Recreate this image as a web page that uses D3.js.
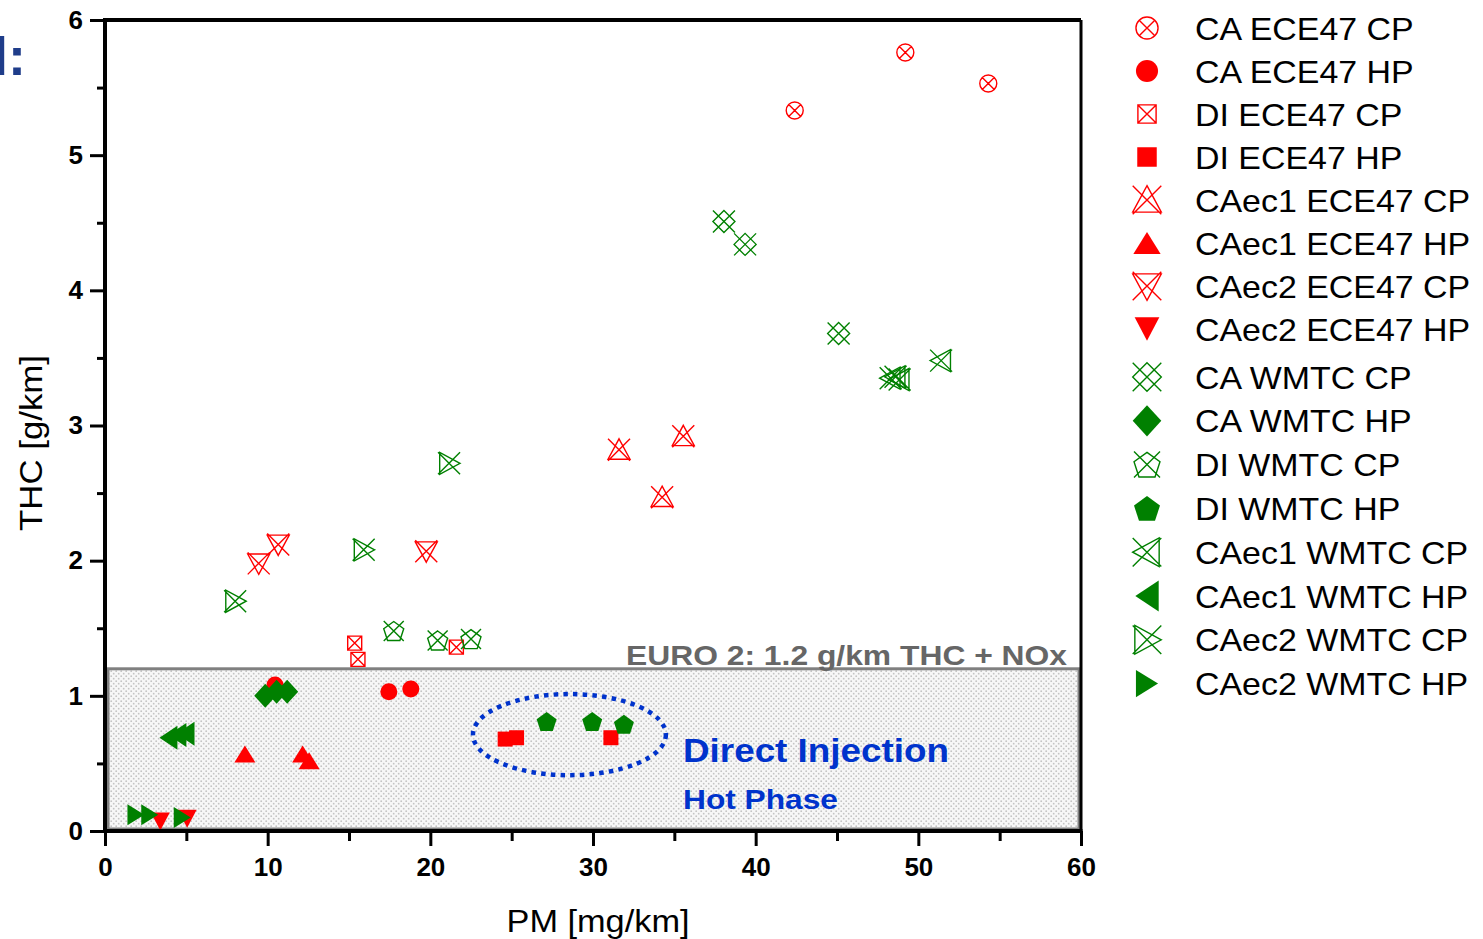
<!DOCTYPE html>
<html>
<head>
<meta charset="utf-8">
<script src="https://cdn.jsdelivr.net/npm/d3@7"></script>
<style>
  html, body { margin: 0; padding: 0; background: #fff; }
  svg { display: block; font-family: "Liberation Sans", Arial, sans-serif; }
</style>
</head>
<body>
<svg id="chart" width="1483" height="939"></svg>
<script>
// ---------------- DATA ----------------
const xTicks = [0, 10, 20, 30, 40, 50, 60];
const yTicks = [0, 1, 2, 3, 4, 5, 6];
const xLabel = "PM [mg/km]";
const yLabel = "THC [g/km]";
const limitLabel = "EURO 2: 1.2 g/km THC + NOx";
const limitValue = 1.2;
const noteLines = ["Direct Injection", "Hot Phase"];

const seriesNames = [
  "CA ECE47 CP", "CA ECE47 HP", "DI ECE47 CP", "DI ECE47 HP",
  "CAec1 ECE47 CP", "CAec1 ECE47 HP", "CAec2 ECE47 CP", "CAec2 ECE47 HP",
  "CA WMTC CP", "CA WMTC HP", "DI WMTC CP", "DI WMTC HP",
  "CAec1 WMTC CP", "CAec1 WMTC HP", "CAec2 WMTC CP", "CAec2 WMTC HP"
];
const seriesShapes = [
  "circleX", "circle", "squareX", "square",
  "triUpX", "triUp", "triDownX", "triDown",
  "diamondX", "diamond", "pentagonX", "pentagon",
  "triLeftX", "triLeft", "triRightX", "triRight"
];
const seriesColors = [
  "#ff0000", "#ff0000", "#ff0000", "#ff0000", "#ff0000", "#ff0000", "#ff0000", "#ff0000",
  "#008000", "#008000", "#008000", "#008000", "#008000", "#008000", "#008000", "#008000"
];

const caEce47Cp    = [[49.2, 5.76], [42.4, 5.33], [54.3, 5.53]];
const caEce47Hp    = [[10.45, 1.08], [17.45, 1.03], [18.8, 1.05]];
const diEce47Cp    = [[15.35, 1.39], [15.55, 1.27], [21.6, 1.36]];
const diEce47Hp    = [[24.6, 0.68], [25.3, 0.69], [31.1, 0.69]];
const caec1Ece47Cp = [[31.6, 2.82], [35.55, 2.92], [34.25, 2.47]];
const caec1Ece47Hp = [[8.6, 0.57], [12.15, 0.57], [12.55, 0.52]];
const caec2Ece47Cp = [[9.45, 1.98], [10.65, 2.12], [19.75, 2.07]];
const caec2Ece47Hp = [[3.4, 0.07], [5.05, 0.09]];
const caWmtcCp     = [[38.05, 4.51], [39.35, 4.34], [45.1, 3.68]];
const caWmtcHp     = [[9.85, 1.0], [10.55, 1.03], [11.2, 1.03]];
const diWmtcCp     = [[17.75, 1.48], [20.45, 1.41], [22.5, 1.42]];
const diWmtcHp     = [[27.15, 0.81], [29.95, 0.81], [31.9, 0.79]];
const caec1WmtcCp  = [[48.3, 3.35], [48.6, 3.36], [48.85, 3.34], [51.4, 3.48]];
const caec1WmtcHp  = [[3.9, 0.69], [4.45, 0.71], [4.95, 0.72]];
const caec2WmtcCp  = [[21.15, 2.72], [15.9, 2.08], [8.0, 1.70]];
const caec2WmtcHp  = [[1.9, 0.12], [2.75, 0.12], [4.75, 0.10]];

const seriesValues = [
  caEce47Cp, caEce47Hp, diEce47Cp, diEce47Hp,
  caec1Ece47Cp, caec1Ece47Hp, caec2Ece47Cp, caec2Ece47Hp,
  caWmtcCp, caWmtcHp, diWmtcCp, diWmtcHp,
  caec1WmtcCp, caec1WmtcHp, caec2WmtcCp, caec2WmtcHp
];

// "Direct Injection, hot phase" cluster ellipse (data units)
const clusterCenter = [28.55, 0.713];
const clusterRadii = [5.93, 0.30];

// ---------------- LAYOUT ----------------
const svg = d3.select("#chart");
const X0 = 105, X1 = 1081, Y0 = 831, Y1 = 20;
const x = d3.scaleLinear().domain([0, 60]).range([X0, X1]);
const y = d3.scaleLinear().domain([0, 6]).range([Y0, Y1]);

// pattern for limit box
const defs = svg.append("defs");
const pat = defs.append("pattern").attr("id", "dots").attr("patternUnits", "userSpaceOnUse")
  .attr("width", 5).attr("height", 5);
pat.append("rect").attr("width", 5).attr("height", 5).attr("fill", "#f7f7f7");
pat.append("circle").attr("cx", 1.2).attr("cy", 1.2).attr("r", 0.9).attr("fill", "#c4c4c4");
pat.append("circle").attr("cx", 3.7).attr("cy", 3.7).attr("r", 0.9).attr("fill", "#c4c4c4");

// limit box
svg.append("rect")
  .attr("x", x(0) + 3).attr("y", y(limitValue))
  .attr("width", x(60) - x(0) - 5).attr("height", y(0) - y(limitValue) - 2)
  .attr("fill", "url(#dots)").attr("stroke", "#808080").attr("stroke-width", 3);

svg.append("text")
  .attr("x", 1067).attr("y", y(limitValue) - 4)
  .attr("text-anchor", "end")
  .attr("font-size", 28).attr("font-weight", "bold").attr("fill", "#666666")
  .attr("textLength", 441).attr("lengthAdjust", "spacingAndGlyphs")
  .text(limitLabel);

// cluster ellipse
svg.append("ellipse")
  .attr("cx", x(clusterCenter[0])).attr("cy", y(clusterCenter[1]))
  .attr("rx", x(clusterCenter[0] + clusterRadii[0]) - x(clusterCenter[0]))
  .attr("ry", y(clusterCenter[1]) - y(clusterCenter[1] + clusterRadii[1]))
  .attr("fill", "none").attr("stroke", "#0033cc").attr("stroke-width", 4.5)
  .attr("stroke-dasharray", "4.5,5.2");

svg.append("text")
  .attr("x", 683).attr("y", 762)
  .attr("font-size", 33).attr("font-weight", "bold").attr("fill", "#0033cc")
  .attr("textLength", 266).attr("lengthAdjust", "spacingAndGlyphs")
  .text(noteLines[0]);
svg.append("text")
  .attr("x", 683).attr("y", 809)
  .attr("font-size", 28).attr("font-weight", "bold").attr("fill", "#0033cc")
  .attr("textLength", 155).attr("lengthAdjust", "spacingAndGlyphs")
  .text(noteLines[1]);

// ---------------- MARKERS ----------------
function circ(r) { return `M${r},0A${r},${r} 0 1,1 ${-r},0A${r},${r} 0 1,1 ${r},0Z`; }
function cross(s) { return `M${-s},${-s}L${s},${s}M${s},${-s}L${-s},${s}`; }
function sq(s) { return `M${-s},${-s}H${s}V${s}H${-s}Z`; }
function poly(pts) { return "M" + pts.map(p => p[0].toFixed(2) + "," + p[1].toFixed(2)).join("L") + "Z"; }
function pent(r) {
  const pts = [];
  for (let k = 0; k < 5; k++) {
    const a = -Math.PI / 2 + k * 2 * Math.PI / 5;
    pts.push([r * Math.cos(a), r * Math.sin(a) + r * 0.1]);
  }
  return poly(pts);
}
function markerPath(shape, k) {
  switch (shape) {
    case "circleX": { const r = 8.5 * k; return circ(r) + cross(r * 0.707); }
    case "circle": return circ(8.5 * k);
    case "squareX": { const s = 7 * k; return sq(s) + cross(s); }
    case "square": return sq(7.5 * k);
    case "triUpX": { const s = 11 * k; return poly([[0, -s], [s, s * 0.85], [-s, s * 0.85]]) + cross(s); }
    case "triUp": { const w = 10.5 * k, h = 8.5 * k; return poly([[0, -h], [w, h], [-w, h]]); }
    case "triDownX": { const s = 11 * k; return poly([[0, s], [s, -s * 0.85], [-s, -s * 0.85]]) + cross(s); }
    case "triDown": { const w = 9.5 * k, h = 9 * k; return poly([[0, h], [w, -h], [-w, -h]]); }
    case "diamondX": { const s = 11 * k; return poly([[0, -s], [s, 0], [0, s], [-s, 0]]) + cross(s); }
    case "diamond": { const w = 11 * k, h = 12 * k; return poly([[0, -h], [w, 0], [0, h], [-w, 0]]); }
    case "pentagonX": { const s = 10 * k; return pent(10.5 * k) + cross(s); }
    case "pentagon": return pent(10.5 * k);
    case "triLeftX": { const s = 11 * k; return poly([[-s, 0], [s * 0.85, -s], [s * 0.85, s]]) + cross(s); }
    case "triLeft": { const w = 9 * k, h = 12 * k; return poly([[-w, 0], [w, -h], [w, h]]); }
    case "triRightX": { const s = 11 * k; return poly([[s, 0], [-s * 0.85, -s], [-s * 0.85, s]]) + cross(s); }
    case "triRight": { const w = 8.5 * k, h = 10.5 * k; return poly([[w, 0], [-w, -h], [-w, h]]); }
  }
}
const isOpen = s => s.endsWith("X");

function drawMarker(g, shape, color, k) {
  g.append("path")
    .attr("d", markerPath(shape, k))
    .attr("fill", isOpen(shape) ? "none" : color)
    .attr("stroke", color)
    .attr("stroke-width", isOpen(shape) ? 1.4 : 0)
    .attr("stroke-linejoin", "miter");
}

const pts = svg.append("g");
seriesValues.forEach((vals, i) => {
  vals.forEach(v => {
    const g = pts.append("g").attr("transform", `translate(${x(v[0])},${y(v[1])})`);
    drawMarker(g, seriesShapes[i], seriesColors[i], 1);
  });
});

// ---------------- AXES ----------------
const axStyle = g => {
  g.selectAll("path.domain").remove();
  g.selectAll("line").attr("stroke", "#000").attr("stroke-width", 3);
};
const halfX = d3.range(5, 60, 10);
const halfY = d3.range(0.5, 6, 1);

// frame
svg.append("line").attr("x1", X0).attr("x2", X1).attr("y1", Y1).attr("y2", Y1).attr("stroke", "#000").attr("stroke-width", 4);
svg.append("line").attr("x1", X1).attr("x2", X1).attr("y1", Y1).attr("y2", Y0).attr("stroke", "#000").attr("stroke-width", 3);
svg.append("line").attr("x1", X0).attr("x2", X1 + 1.5).attr("y1", Y0).attr("y2", Y0).attr("stroke", "#000").attr("stroke-width", 4);
svg.append("line").attr("x1", X0).attr("x2", X0).attr("y1", Y1 - 2).attr("y2", Y0 + 2).attr("stroke", "#000").attr("stroke-width", 4);

// bottom axis
const gx = svg.append("g").attr("transform", `translate(0,${Y0})`)
  .call(d3.axisBottom(x).tickValues(xTicks).tickSize(15).tickPadding(12).tickFormat(d3.format("d")));
axStyle(gx);
gx.selectAll("text").attr("font-size", 26).attr("font-weight", "bold").attr("fill", "#000")
  .attr("font-family", "Liberation Sans, Arial, sans-serif");
const gxm = svg.append("g").attr("transform", `translate(0,${Y0})`)
  .call(d3.axisBottom(x).tickValues(halfX).tickSize(10).tickFormat(""));
axStyle(gxm);

// left axis
const gy = svg.append("g").attr("transform", `translate(${X0},0)`)
  .call(d3.axisLeft(y).tickValues(yTicks).tickSize(15).tickPadding(7).tickFormat(d3.format("d")));
axStyle(gy);
gy.selectAll("text").attr("font-size", 26).attr("font-weight", "bold").attr("fill", "#000")
  .attr("font-family", "Liberation Sans, Arial, sans-serif");
const gym = svg.append("g").attr("transform", `translate(${X0},0)`)
  .call(d3.axisLeft(y).tickValues(halfY).tickSize(8).tickFormat(""));
axStyle(gym);

// axis titles
svg.append("text").attr("x", 598).attr("y", 932).attr("text-anchor", "middle")
  .attr("font-size", 32).attr("fill", "#000")
  .attr("textLength", 183).attr("lengthAdjust", "spacingAndGlyphs").text(xLabel);
svg.append("text").attr("transform", "translate(42,443) rotate(-90)").attr("text-anchor", "middle")
  .attr("font-size", 32).attr("fill", "#000")
  .attr("textLength", 176).attr("lengthAdjust", "spacingAndGlyphs").text(yLabel);

// ---------------- LEGEND ----------------
const leg = svg.append("g");
seriesNames.forEach((name, i) => {
  const cy = i < 8 ? 28 + i * 43 : 377 + (i - 8) * 43.8;
  const g = leg.append("g").attr("transform", `translate(1147,${cy})`);
  drawMarker(g, seriesShapes[i], seriesColors[i], 1.3);
  leg.append("text")
    .attr("transform", `translate(1195,${cy + 11.5}) scale(1.06,1)`)
    .attr("font-size", 32).attr("fill", "#000").text(name);
});

// cut-off fragment of a slide title at the top-left
svg.append("text").attr("x", -7).attr("y", 75)
  .attr("font-size", 54).attr("font-weight", "bold").attr("fill", "#1f3d8a").text("l:");
</script>
</body>
</html>
